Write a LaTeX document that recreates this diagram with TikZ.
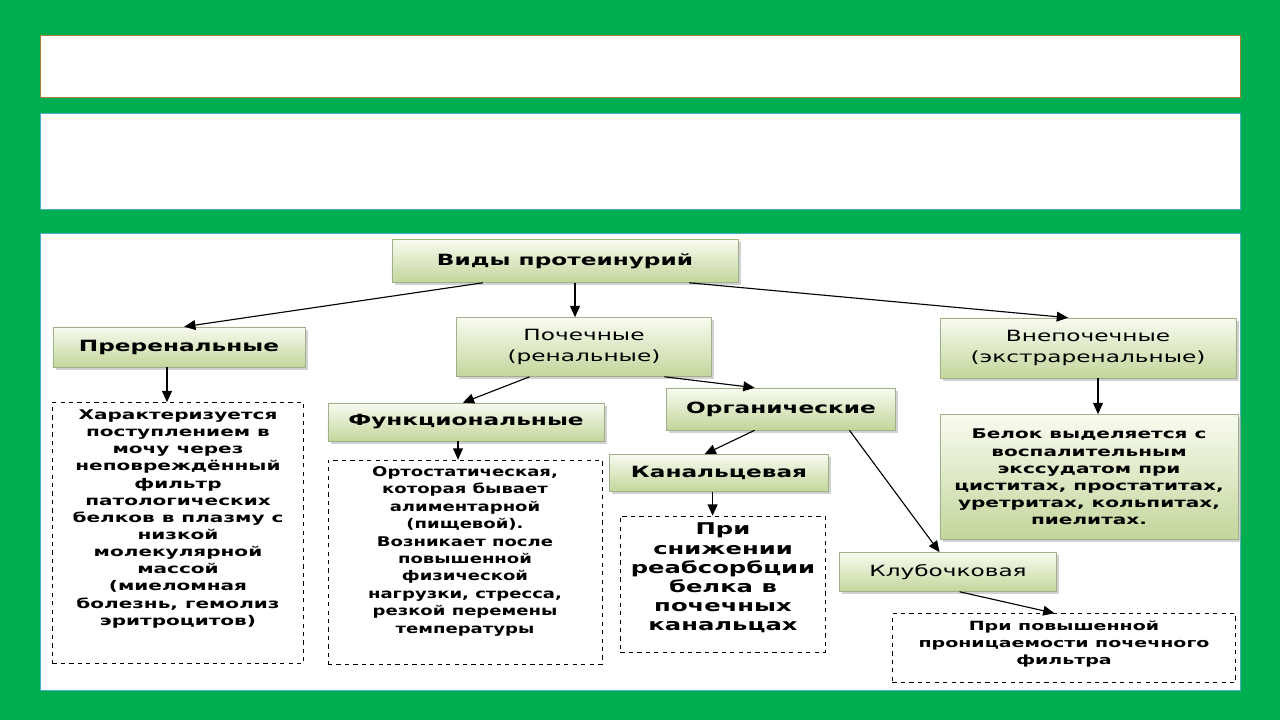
\documentclass[tikz,border=0pt]{standalone}
\usepackage{fontspec}
\setmainfont{DejaVu Sans}[FakeStretch=1.5]
\newfontfamily\narrowfont{DejaVu Sans}[FakeStretch=1.35]
\usetikzlibrary{arrows.meta,shadows}
\definecolor{slidegreen}{RGB}{0,173,80}
\definecolor{goldline}{RGB}{160,130,50}
\definecolor{tealline}{RGB}{75,172,198}
\definecolor{boxtop}{RGB}{248,251,240}
\definecolor{boxbot}{RGB}{195,214,155}
\definecolor{boxline}{RGB}{160,175,140}

\begin{document}
\begin{tikzpicture}[x=0.025cm, y=-0.025cm,
    stage/.style={draw=boxline, top color=boxtop, bottom color=boxbot, align=center, inner sep=0pt,
      drop shadow={shadow xshift=2pt, shadow yshift=-2pt, fill=black!35}},
    note/.style={draw=black, dashed, thin, inner sep=0pt},
    notetext/.style={align=center, inner sep=0pt, anchor=north, font=\bfseries\fontsize{9.5}{12.2}\selectfont},
    link/.style={-{Triangle[length=8pt,width=7pt]}, thick}
]
    % slide background
    \fill[slidegreen] (0,0) rectangle (1280,720);
    \useasboundingbox (0,0) rectangle (1280,720);
    \draw[goldline, fill=white] (40,35) rectangle (1240,97);
    \draw[tealline, fill=white] (40,113) rectangle (1240,209);
    \draw[tealline, fill=white] (40,233) rectangle (1240,690);

    % top level
    \node[stage, minimum width=8.65cm, minimum height=1.075cm, font=\bfseries\fontsize{11}{13}\selectfont]
      (vidy) at (565,261) {Виды протеинурий};

    % second level
    \node[stage, minimum width=6.3cm, minimum height=1.0cm, font=\bfseries\fontsize{11}{13}\selectfont]
      (pre) at (179,347) {Преренальные};
    \node[stage, minimum width=6.375cm, minimum height=1.475cm, font=\fontsize{11}{15}\selectfont]
      (poch) at (584,347) {Почечные\\(ренальные)};
    \node[stage, minimum width=7.4cm, minimum height=1.5cm, font=\fontsize{11}{15}\selectfont]
      (vne) at (1088,348) {Внепочечные\\(экстраренальные)};

    % renal branch
    \node[stage, minimum width=6.9cm, minimum height=0.95cm, font=\bfseries\fontsize{11}{13}\selectfont]
      (func) at (466,422) {Функциональные};
    \node[stage, minimum width=5.725cm, minimum height=1.05cm, font=\bfseries\fontsize{11}{13}\selectfont]
      (org) at (781,409) {Органические};
    \node[stage, minimum width=5.475cm, minimum height=0.925cm, font=\bfseries\fontsize{11}{13}\selectfont]
      (kan) at (719,473) {Канальцевая};
    \node[stage, minimum width=5.425cm, minimum height=0.975cm, font=\fontsize{11}{13}\selectfont]
      (klub) at (948,572) {Клубочковая};
    \node[stage, minimum width=7.45cm, minimum height=3.125cm, font=\bfseries\fontsize{9.5}{12.2}\selectfont]
      (belok) at (1089,477) {Белок выделяется с\\воспалительным\\экссудатом при\\циститах, простатитах,\\уретритах, кольпитах,\\пиелитах.};

    % dashed notes
    \node[note, minimum width=6.275cm, minimum height=6.525cm] (d1) at (178,533) {};
    \node[notetext] (t1) at ([yshift=-0.18cm]d1.north) {Характеризуется\\поступлением в\\мочу через\\неповреждённый\\фильтр\\патологических\\белков в плазму с\\низкой\\молекулярной\\массой\\(миеломная\\болезнь, гемолиз\\эритроцитов)};
    \node[note, minimum width=6.85cm, minimum height=5.1cm] (d2) at (465,562) {};
    \node[notetext, font=\narrowfont\bfseries\fontsize{9.5}{12.4}\selectfont] (t2) at ([yshift=-0.16cm]d2.north) {Ортостатическая,\\которая бывает\\алиментарной\\(пищевой).\\Возникает после\\повышенной\\физической\\нагрузки, стресса,\\резкой перемены\\температуры};
    \node[note, minimum width=5.125cm, minimum height=3.4cm] (d3) at (723,584) {};
    \node[notetext, font=\bfseries\fontsize{11.5}{13.6}\selectfont] (t3) at ([yshift=-0.18cm]d3.north) {При\\снижении\\реабсорбции\\белка в\\почечных\\канальцах};
    \node[note, minimum width=8.575cm, minimum height=1.725cm] (d4) at (1064,648) {};
    \node[notetext, font=\bfseries\fontsize{9}{12}\selectfont] (t4) at ([yshift=-0.18cm]d4.north) {При повышенной\\проницаемости почечного\\фильтра};

    % arrows
    \draw[link] ([xshift=-2.05cm]vidy.south) -- ([xshift=0.13cm]pre.north);
    \draw[link] ([xshift=0.25cm]vidy.south) -- ([xshift=0.25cm]vidy.south |- poch.north);
    \draw[link] ([xshift=3.1cm]vidy.south) -- ([xshift=-0.5cm]vne.north);
    \draw[link] ([xshift=-0.3cm]pre.south) -- ([xshift=-0.3cm]pre.south |- d1.north);
    \draw[link] ([xshift=-1.36cm]poch.south) -- ([xshift=-0.08cm]func.north);
    \draw[link] ([xshift=2.01cm]poch.south) -- ([xshift=-0.66cm]org.north);
    \draw[link] ([xshift=-0.2cm]func.south) -- ([xshift=-0.2cm]func.south |- d2.north);
    \draw[link] ([xshift=-0.66cm]org.south) -- ([xshift=-0.36cm]kan.north);
    \draw[link] ([xshift=1.71cm]org.south) -- ([xshift=-0.21cm]klub.north);
    \draw[link] ([xshift=-0.16cm]kan.south) -- ([xshift=-0.16cm]kan.south |- d3.north);
    \draw[link] ([xshift=0.29cm]klub.south) -- ([xshift=-0.24cm]d4.north);
    \draw[link] ([xshift=0.25cm]vne.south) -- ([xshift=0.25cm]vne.south |- belok.north);
\end{tikzpicture}
\end{document}
